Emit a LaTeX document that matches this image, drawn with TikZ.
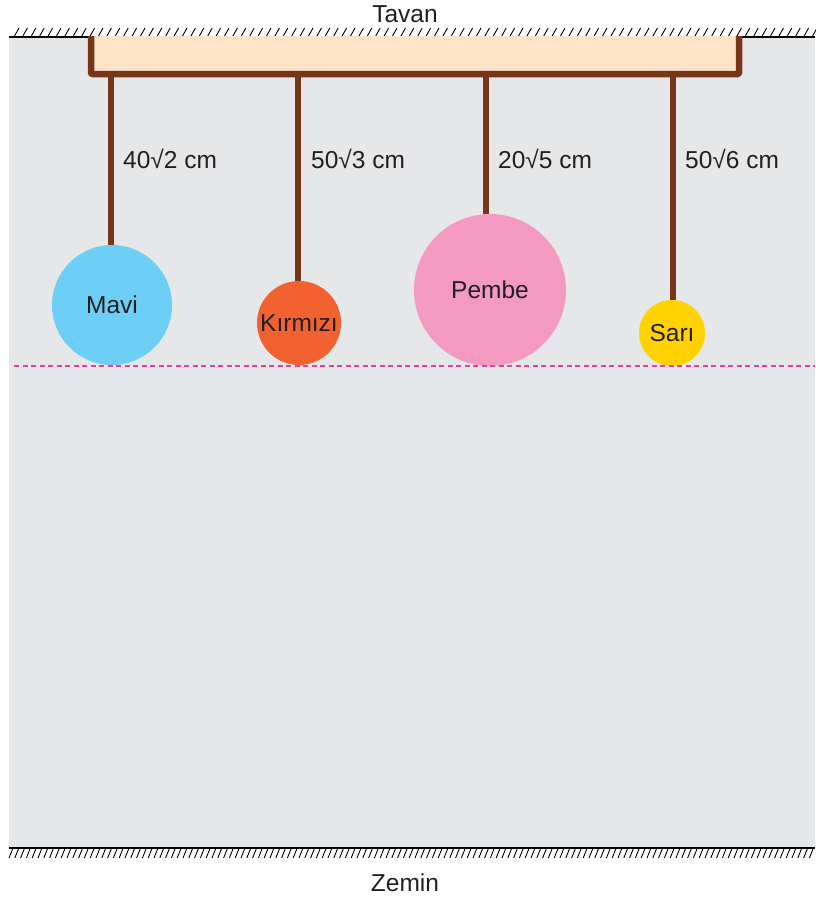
\documentclass[tikz,border=0pt]{standalone}
\usepackage{fontspec}
\setmainfont{Liberation Sans}
\definecolor{bg}{HTML}{E6E7E8}
\definecolor{beige}{HTML}{FDE4C8}
\definecolor{brown}{HTML}{77351A}
\definecolor{mavi}{HTML}{6DCFF6}
\definecolor{kirmizi}{HTML}{F26231}
\definecolor{pembe}{HTML}{F49AC1}
\definecolor{sari}{HTML}{FFD200}
\definecolor{dashmag}{HTML}{E83E9C}
\definecolor{txt}{HTML}{231F20}
\pgfdeclarelayer{back}
\pgfdeclarelayer{mid}
\pgfsetlayers{back,mid,main}
\begin{document}
\begin{tikzpicture}[x=1pt,y=-1pt,
  every node/.style={text=txt,font=\fontsize{24.5}{28}\selectfont},
  ball/.style={circle,inner sep=0pt,minimum size=#1},
  rod/.style={draw=brown,line width=6.5pt},
  hatch/.style={line width=0.9pt,black},
  lbl/.style={anchor=west,inner sep=0pt}]
\useasboundingbox (0,0) rectangle (815,902);
\begin{pgfonlayer}{back}
\fill[bg] (9,37) rectangle (815,848);
\end{pgfonlayer}
% ceiling
\draw[line width=1.5pt] (9,37) -- (815,37);
\foreach \x in {14,22.4,...,812} \draw[hatch] (\x,37) -- (\x+5,28);
\node (tavan) at (405,14) {Tavan};
% floor
\draw[line width=1.5pt] (9,848) -- (815,848);
\foreach \x in {9,14.8,...,812} \draw[hatch] (\x,858) -- (\x+4,848);
\node (zemin) at (405,883) {Zemin};
% bar
\draw[brown,fill=beige,line width=6.5pt,line join=round,rounded corners=1pt] (91,36) -- (91,74) -- (739,74) -- (739,36);
\coordinate (b1) at (111,74);
\coordinate (b2) at (298,74);
\coordinate (b3) at (486,74);
\coordinate (b4) at (673,74);
% balls
\node[ball=120pt,fill=mavi] (mavi) at (112,305) {Mavi};
\node[ball=84pt,fill=kirmizi] (kirmizi) at (299,323) {Kırmızı};
\node[ball=152pt,fill=pembe] (pembe) at (490,290) {Pembe};
\node[ball=66pt,fill=sari] (sari) at (672,333) {Sarı};
\begin{pgfonlayer}{mid}
\draw[rod] (b1) -- (b1 |- mavi.north);
\draw[rod] (b2) -- (b2 |- kirmizi.north);
\draw[rod] (b3) -- (b3 |- pembe.north);
\draw[rod] (b4) -- (b4 |- sari.north);
\end{pgfonlayer}
% labels
\node[lbl] (l1) at (123,159) {40√2 cm};
\node[lbl] (l2) at (311,159) {50√3 cm};
\node[lbl] (l3) at (498,159) {20√5 cm};
\node[lbl] (l4) at (685,159) {50√6 cm};
% dashed line
\coordinate (d1) at (14,366);
\coordinate (d2) at (815,366);
\draw[dashmag,line width=1.2pt,dash pattern=on 5pt off 3.5pt] (d1) -- (d2);
\end{tikzpicture}
\end{document}
